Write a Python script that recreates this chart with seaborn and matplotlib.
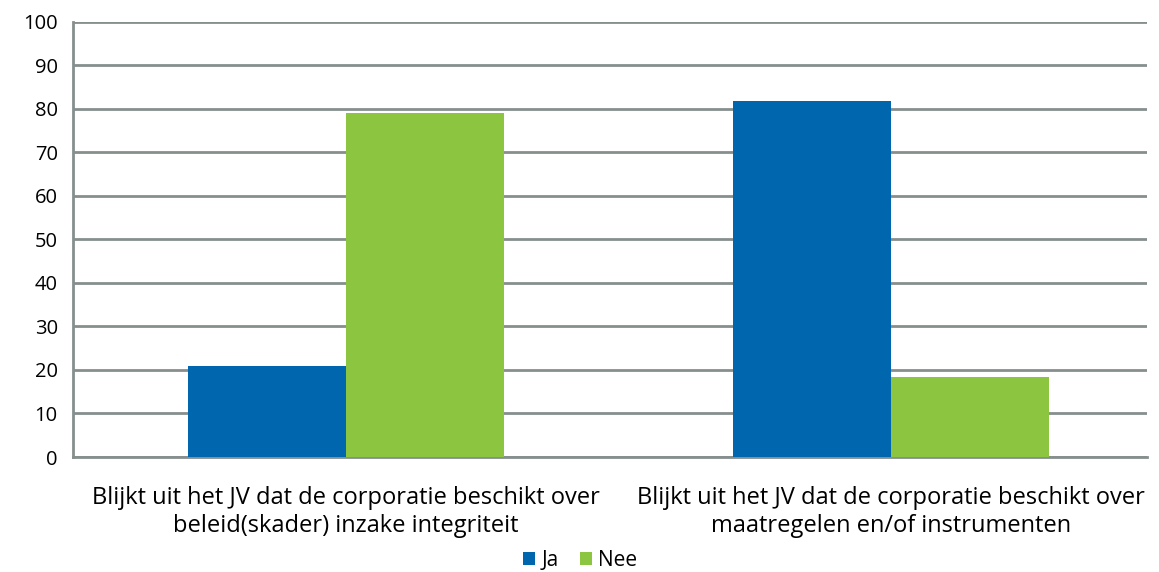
import pandas as pd
import seaborn as sns
import matplotlib.pyplot as plt

# Data
categories = ['Blijkt uit het JV dat de corporatie beschikt over\nbeleid(skader) inzake integriteit',
              'Blijkt uit het JV dat de corporatie beschikt over\nmaatregelen en/of instrumenten']
ja_values = [21.0, 81.8]
nee_values = [79.0, 18.3]
series = ['Ja', 'Nee']

df = pd.DataFrame({
    'Categorie': categories * 2,
    'Antwoord': ['Ja'] * 2 + ['Nee'] * 2,
    'Waarde': ja_values + nee_values,
})

sns.set_style('white')
plt.rcParams['font.family'] = ['Open Sans', 'DejaVu Sans']
plt.rcParams['text.color'] = 'black'
plt.rcParams['xtick.labelcolor'] = 'black'
plt.rcParams['ytick.labelcolor'] = 'black'

grid_col = '#868E8E'
fig, ax = plt.subplots(figsize=(11.59, 5.72), dpi=100)
sns.barplot(data=df, x='Categorie', y='Waarde', hue='Antwoord', hue_order=series,
            palette=['#0066AE', '#8CC540'], width=0.58, saturation=1, linewidth=0,
            ax=ax, zorder=3)

ax.set_ylim(0, 100)
ax.set_xlim(-0.5, 1.47)
ax.set_yticks(range(0, 101, 10))
ax.yaxis.grid(True, color=grid_col, linewidth=2)
ax.set_axisbelow(True)
ax.set_xlabel('')
ax.set_ylabel('')

for s in ['top', 'right']:
    ax.spines[s].set_visible(False)
for s in ['left', 'bottom']:
    ax.spines[s].set_color(grid_col)
    ax.spines[s].set_linewidth(2)

ax.tick_params(axis='y', length=5, width=2, color=grid_col, labelsize=14.5, pad=6)
ax.tick_params(axis='x', which='major', length=0, labelsize=17, pad=21)
ax.set_xticks([-0.5, 0.5], minor=True)
ax.tick_params(axis='x', which='minor', length=6, width=2, color=grid_col)

ax.legend(loc='center', bbox_to_anchor=(0.472, -0.237), ncol=2, frameon=False,
          fontsize=15, handlelength=0.6, handleheight=0.6, handletextpad=0.3,
          columnspacing=1.0, borderpad=0)

plt.subplots_adjust(left=0.063, right=0.99, top=0.962, bottom=0.201)
plt.savefig('out.png')
